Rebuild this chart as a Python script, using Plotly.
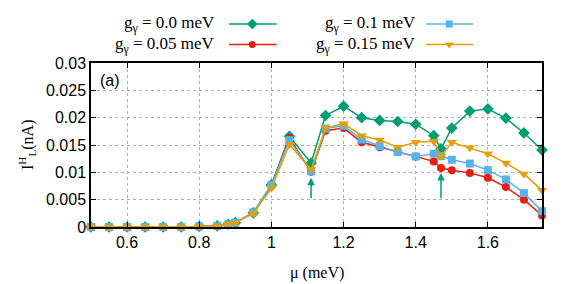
import plotly.graph_objects as go

mu = [0.5, 0.55, 0.6, 0.65, 0.7, 0.75, 0.8, 0.85, 0.88, 0.9, 0.95, 1.0, 1.05, 1.11,
      1.15, 1.2, 1.25, 1.3, 1.35, 1.4, 1.45, 1.47, 1.5, 1.55, 1.6, 1.65, 1.7, 1.75]

g_000 = [0, 0, 0, 0, 0, 0, 0.0001, 0.0002, 0.0005, 0.0008, 0.0026, 0.0077, 0.0166, 0.0117,
         0.0204, 0.0221, 0.0200, 0.0195, 0.0193, 0.0188, 0.0167, 0.0143, 0.0181, 0.0212,
         0.0216, 0.0199, 0.0172, 0.0141]
g_005 = [0, 0, 0, 0, 0, 0, 0.0001, 0.0002, 0.0005, 0.0008, 0.0026, 0.0076, 0.0163, 0.0101,
         0.0176, 0.0181, 0.0155, 0.0146, 0.0138, 0.0129, 0.0120, 0.0108, 0.0104, 0.0099,
         0.0090, 0.0073, 0.0050, 0.0021]
g_010 = [0, 0, 0, 0, 0, 0, 0.0001, 0.0002, 0.0005, 0.0008, 0.0027, 0.0077, 0.0159, 0.0102,
         0.0180, 0.0185, 0.0160, 0.0148, 0.0137, 0.0129, 0.0134, 0.0130, 0.0123, 0.0116,
         0.0104, 0.0087, 0.0062, 0.0029]
g_015 = [0, 0, 0, 0, 0, 0, 0.0001, 0.0002, 0.0005, 0.0008, 0.0025, 0.0071, 0.0151, 0.0105,
         0.0181, 0.0189, 0.0167, 0.0159, 0.0146, 0.0155, 0.0157, 0.0129, 0.0155, 0.0145,
         0.0134, 0.0117, 0.0097, 0.0067]

labels = ["g<sub>γ</sub> = 0.0 meV", "g<sub>γ</sub> = 0.05 meV",
          "g<sub>γ</sub> = 0.1 meV", "g<sub>γ</sub> = 0.15 meV"]
colors = ["#009e73", "#e51e10", "#56b4e9", "#e69f00"]
symbols = ["diamond", "circle", "square", "triangle-down"]
sizes = [9, 8, 8, 9]
series = [g_000, g_005, g_010, g_015]

arrow_mu = [1.11, 1.47]
arrow_base = [0.005, 0.005]
arrow_tip = [0.009, 0.0099]

x_ticks = [0.6, 0.8, 1.0, 1.2, 1.4, 1.6]
x_ticktext = ["0.6", "0.8", "1", "1.2", "1.4", "1.6"]
y_ticks = [0, 0.005, 0.01, 0.015, 0.02, 0.025, 0.03]
y_ticktext = ["0", "0.005", "0.01", "0.015", "0.02", "0.025", "0.03"]

SERIF = "Liberation Serif, Times New Roman, serif"
SANS = "Liberation Sans, Arial, sans-serif"

# page body adds an 8px offset; figure geometry below is in figure pixels
W, H = 573, 276
ML, MR, MT, MB = 83, 39, 5, 57
area_h = H - MT - MB            # 214
main_top = 55                   # plot top in figure px
main_frac = (H - MB - main_top) / area_h

fig = go.Figure()
for ys, c, s, sz, lab in zip(series, colors, symbols, sizes, labels):
    fig.add_trace(go.Scatter(x=mu, y=ys, mode="lines+markers", name=lab,
                             line=dict(color=c, width=1.5),
                             marker=dict(symbol=s, size=sz, color=c),
                             showlegend=False, cliponaxis=False))

# custom legend (text left, sample right) on a layout-only axis measured in figure pixels
def fy(y_fig):
    return (H - MB) - y_fig

leg_line = [[221, 268.7], [221, 268.7], [418, 465.3], [418, 465.3]]
leg_mark = [244.3, 244.3, 441.3, 441.3]
leg_text = [208.7, 208.7, 410.3, 410.3]
leg_row = [16, 36.5, 16, 36.5]
for i in range(4):
    fig.add_trace(go.Scatter(x=leg_line[i], y=[fy(leg_row[i])] * 2, xaxis="x2", yaxis="y2",
                             mode="lines", line=dict(color=colors[i], width=1.5),
                             showlegend=False, hoverinfo="skip"))
    fig.add_trace(go.Scatter(x=[leg_mark[i]], y=[fy(leg_row[i])], xaxis="x2", yaxis="y2",
                             mode="markers", marker=dict(symbol=symbols[i], size=sizes[i] - 1, color=colors[i]),
                             showlegend=False, hoverinfo="skip"))
    fig.add_annotation(x=leg_text[i], y=fy(leg_row[i]), xref="x2", yref="y2",
                       text=labels[i], showarrow=False, xanchor="right", yanchor="middle",
                       font=dict(family=SERIF, size=17, color="black"))

for xm, yb, yt in zip(arrow_mu, arrow_base, arrow_tip):
    fig.add_annotation(x=xm, y=yt, ax=xm, ay=yb, xref="x", yref="y", axref="x", ayref="y",
                       text="", showarrow=True, arrowhead=2, arrowsize=1, arrowwidth=1.5,
                       arrowcolor="#009e73")

fig.add_annotation(x=(90 - ML) / (W - ML - MR), y=fy(62) / area_h, xref="paper", yref="paper",
                   text="(a)", showarrow=False, xanchor="left", yanchor="top",
                   font=dict(family=SANS, size=16, color="black"))
fig.add_annotation(x=0.5, y=fy(265) / area_h, xref="paper", yref="paper", text="μ (meV)",
                   showarrow=False, xanchor="center", yanchor="middle",
                   font=dict(family=SERIF, size=16, color="black"))
fig.add_annotation(x=(19 - ML) / (W - ML - MR), y=main_frac / 2, xref="paper", yref="paper",
                   text="I<sup>H</sup><sub>L</sub>(nA)", showarrow=False, textangle=-90,
                   xanchor="center", yanchor="middle",
                   font=dict(family=SERIF, size=16, color="black"))

axis_common = dict(showline=True, linecolor="black", linewidth=1.5, mirror="ticks",
                   ticks="inside", ticklen=5, tickwidth=1, tickcolor="black",
                   showgrid=True, gridcolor="#b0b0b0", griddash="dot", gridwidth=1,
                   zeroline=False, tickfont=dict(family=SANS, size=16, color="black"))

fig.update_layout(
    width=W, height=H,
    margin=dict(l=ML, r=MR, t=MT, b=MB, autoexpand=False),
    plot_bgcolor="rgba(0,0,0,0)", paper_bgcolor="white",
    xaxis=dict(range=[0.5, 1.75], tickvals=x_ticks, ticktext=x_ticktext, domain=[0, 1], **axis_common),
    yaxis=dict(range=[0, 0.03], tickvals=y_ticks, ticktext=y_ticktext, domain=[0, main_frac], **axis_common),
    xaxis2=dict(range=[ML, W - MR], domain=[0, 1], visible=False, anchor="y2", fixedrange=True),
    yaxis2=dict(range=[0, area_h], domain=[0, 1], visible=False, anchor="x2", fixedrange=True),
    showlegend=False,
)

fig.write_html("out.html")
